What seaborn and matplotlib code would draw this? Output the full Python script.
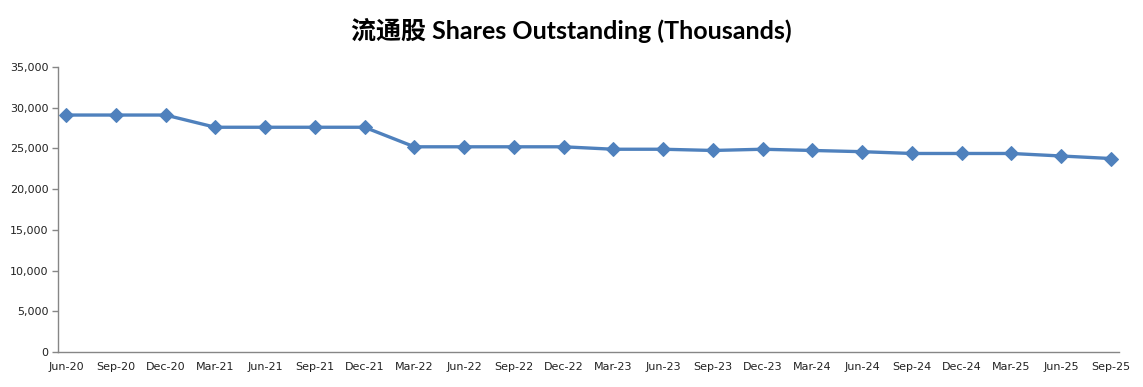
import numpy as np
import pandas as pd
import matplotlib
matplotlib.use("Agg")
import matplotlib.pyplot as plt
import seaborn as sns

quarters = ["Jun-20", "Sep-20", "Dec-20", "Mar-21", "Jun-21", "Sep-21", "Dec-21",
            "Mar-22", "Jun-22", "Sep-22", "Dec-22", "Mar-23", "Jun-23", "Sep-23",
            "Dec-23", "Mar-24", "Jun-24", "Sep-24", "Dec-24", "Mar-25", "Jun-25", "Sep-25"]
shares = [29100, 29100, 29100, 27600, 27600, 27600, 27600,
          25200, 25200, 25200, 25200, 24900, 24900, 24750,
          24900, 24750, 24600, 24380, 24380, 24380, 24070, 23760]
y_ticks = [0, 5000, 10000, 15000, 20000, 25000, 30000, 35000]
title = "流通股 Shares Outstanding (Thousands)"

sns.set_style("white")
plt.rcParams['font.family'] = ['DejaVu Sans', 'Noto Sans CJK SC']

df = pd.DataFrame({"idx": np.arange(len(quarters)), "shares": shares})

fig = plt.figure(figsize=(11.43, 3.87), dpi=100)
ax = fig.add_axes([58/1143, 1 - 352/387, (1119-58)/1143, (352-67)/387])

sns.lineplot(data=df, x="idx", y="shares", ax=ax, color="#4F81BD", linewidth=2.4,
             marker="D", markersize=7.5, markeredgecolor="#4F81BD", markerfacecolor="#4F81BD")

n = len(quarters)
off = 8/49.76
ax.set_xlim(-off, n - 1 + off)
ax.set_ylim(0, 35000)
ax.set_yticks(y_ticks)
ax.set_yticklabels([f"{v:,}" for v in y_ticks], fontsize=8, color="#222222", family="DejaVu Sans")
ax.set_xticks(np.arange(n))
ax.set_xticklabels(quarters, fontsize=8, color="#222222", family="DejaVu Sans")
ax.tick_params(axis="x", which="major", length=0, pad=7)
ax.set_xticks(np.arange(n) - off, minor=True)
ax.tick_params(axis="x", which="minor", length=4, color="#868686", width=1)
ax.tick_params(axis="y", length=4, color="#868686", width=1, left=True, pad=3)
ax.set_xlabel("")
ax.set_ylabel("")
for s in ["top", "right"]:
    ax.spines[s].set_visible(False)
for s in ["left", "bottom"]:
    ax.spines[s].set_color("#868686")
    ax.spines[s].set_linewidth(1)

fig.text(571/1143, 1 - 30/387, title, ha="center", va="center", fontsize=18,
         fontweight="bold", color="black", family=["Lato", "Noto Sans CJK SC"])

fig.savefig("out.png", dpi=100)
